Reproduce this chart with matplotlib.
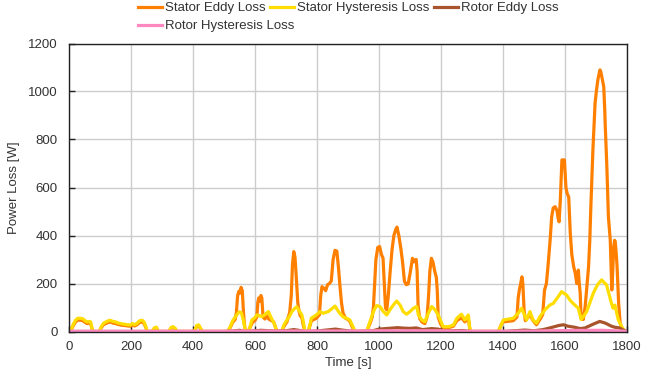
import matplotlib
matplotlib.use("Agg")
import matplotlib.pyplot as plt

plt.rcParams['font.family'] = ['Liberation Sans', 'DejaVu Sans']

# ---- data ----
t_se = [0, 5, 12, 20, 28, 38, 46, 52, 58, 65, 70, 74, 78,
        98, 104, 112, 122, 132, 142, 150, 160, 170, 180, 190, 198, 205, 212, 220, 228, 236, 242, 248, 252,
        268, 275, 282, 288, 322, 330, 336, 342, 348, 404, 412, 418, 424, 430,
        512, 520, 528, 536, 540, 544, 548, 552, 555, 559, 562, 565, 568, 572,
        578, 585, 592, 600, 606, 609, 612, 616, 619, 622, 626, 632, 638, 644, 652, 660, 665, 670,
        686, 695, 703, 712, 717, 721, 725, 729, 733, 738, 742, 746, 751, 756, 761,
        772, 782, 798, 808, 812, 816, 822, 828, 834, 840, 846, 852, 858, 864, 869, 874, 879, 884, 892, 900, 906, 914, 922,
        960, 971, 978, 982, 986, 990, 996, 1002, 1008, 1013, 1017, 1021, 1025, 1030, 1036, 1042, 1048, 1054, 1058,
        1064, 1070, 1076, 1082, 1088, 1094, 1100, 1105, 1108, 1112, 1116, 1120, 1123, 1126, 1131, 1138, 1148,
        1155, 1160, 1164, 1169, 1174, 1180, 1185, 1188, 1191, 1198, 1207, 1224, 1240, 1251, 1266, 1277, 1288, 1294,
        1385, 1395, 1401, 1433, 1445, 1449, 1453, 1457, 1461, 1464, 1468, 1472, 1487, 1497, 1508, 1519, 1528,
        1534, 1540, 1545, 1552, 1557, 1562, 1568, 1574, 1578, 1581, 1585, 1590, 1598, 1603, 1607, 1612, 1617,
        1622, 1628, 1633, 1638, 1643, 1646, 1649, 1652, 1659, 1665, 1670, 1676, 1680, 1683, 1690, 1697, 1702,
        1706, 1710, 1713, 1716, 1719, 1722, 1725, 1728, 1730, 1735, 1740, 1746, 1751, 1754, 1757, 1760, 1762,
        1765, 1768, 1773, 1778, 1785, 1790, 1800]
stator_eddy = [0, 0, 20, 38, 47, 47, 44, 38, 33, 35, 33, 12, 0,
               0, 16, 29, 35, 40, 35, 33, 29, 26, 25, 23, 22, 27, 23, 29, 38, 40, 33, 16, 0,
               0, 12, 15, 0, 0, 15, 17, 11, 0, 0, 21, 24, 12, 0,
               0, 16, 38, 50, 80, 150, 168, 160, 184, 170, 100, 40, 8, 0,
               0, 20, 38, 46, 60, 120, 140, 125, 150, 140, 60, 52, 66, 52, 46, 40, 22, 0,
               0, 25, 40, 80, 150, 280, 333, 310, 230, 120, 85, 65, 58, 25, 0,
               0, 45, 55, 70, 150, 187, 180, 170, 195, 200, 210, 300, 338, 335, 270, 190, 120, 77, 55, 50, 42, 18, 0,
               0, 33, 60, 100, 200, 300, 350, 354, 320, 306, 200, 98, 90, 150, 250, 340, 400, 425, 435,
               400, 350, 290, 210, 195, 198, 240, 280, 305, 290, 298, 300, 250, 110, 55, 40, 33,
               60, 150, 250, 305, 290, 250, 225, 170, 60, 33, 16, 16, 22, 45, 57, 40, 57, 0,
               0, 30, 40, 45, 60, 140, 175, 200, 228, 200, 90, 45, 70, 45, 28, 50, 70,
               173, 200, 270, 381, 478, 515, 520, 505, 470, 457, 550, 715, 715, 600, 575, 560, 410,
               320, 270, 243, 200, 256, 200, 160, 55, 50, 103, 180, 270, 380, 506, 756, 951, 1010,
               1048, 1075, 1090, 1080, 1060, 1040, 1020, 930, 853, 687, 478, 381, 173, 250, 353, 380, 375,
               330, 270, 118, 35, 5, 0, 0]

t_sh = [0, 5, 12, 20, 28, 38, 46, 52, 58, 65, 70, 74, 78,
        98, 104, 112, 122, 132, 142, 150, 160, 170, 180, 190, 198, 205, 212, 220, 228, 236, 242, 248, 252,
        268, 275, 282, 288, 322, 330, 336, 342, 348, 404, 412, 418, 424, 430,
        512, 520, 528, 536, 544, 550, 556, 562, 568, 572,
        580, 590, 600, 606, 614, 622, 632, 643, 653, 664, 670,
        686, 694, 703, 712, 719, 727, 735, 743, 751, 756, 761,
        772, 782, 798, 809, 820, 836, 848, 858, 866, 874, 885, 896, 906, 916, 923,
        960, 971, 982, 992, 1003, 1014, 1025, 1035, 1046, 1057, 1068, 1078, 1089, 1100, 1111, 1122, 1127,
        1138, 1148, 1159, 1170, 1181, 1191, 1200, 1207, 1224, 1240, 1251, 1266, 1277, 1288, 1294,
        1385, 1401, 1433, 1449, 1460, 1476, 1487, 1497, 1508, 1519, 1535, 1551, 1562, 1578, 1589, 1605,
        1616, 1626, 1643, 1652, 1659, 1670, 1691, 1705, 1718, 1734, 1750, 1755, 1761, 1772, 1783, 1794, 1800]
stator_hyst = [0, 0, 25, 45, 55, 55, 52, 45, 40, 42, 40, 15, 0,
               0, 20, 35, 42, 47, 42, 40, 35, 32, 30, 28, 27, 33, 28, 35, 45, 47, 40, 20, 0,
               0, 15, 18, 0, 0, 18, 20, 14, 0, 0, 25, 28, 15, 0,
               0, 20, 45, 60, 75, 82, 78, 50, 10, 0,
               0, 48, 58, 69, 66, 62, 70, 83, 55, 27, 0,
               0, 30, 48, 65, 83, 95, 103, 85, 69, 40, 0,
               0, 56, 69, 83, 76, 83, 95, 106, 90, 75, 60, 55, 48, 20, 0,
               0, 41, 83, 108, 104, 83, 69, 90, 110, 127, 110, 83, 72, 83, 97, 104, 69,
               48, 41, 76, 104, 90, 69, 41, 20, 20, 27, 55, 72, 48, 69, 0,
               0, 48, 55, 76, 97, 48, 83, 48, 35, 62, 90, 110, 117, 145, 166, 152,
               131, 117, 97, 50, 62, 83, 159, 195, 215, 194, 117, 97, 110, 48, 20, 0, 0]

t_re = [0, 500, 530, 550, 565, 600, 620, 660, 700, 725, 745, 760, 800, 830, 860, 880, 920,
        980, 1000, 1020, 1060, 1080, 1100, 1120, 1140, 1170, 1190, 1210, 1270, 1295,
        1400, 1450, 1470, 1500, 1530, 1560, 1580, 1595, 1610, 1630, 1650, 1665, 1690, 1712, 1730,
        1750, 1760, 1775, 1790, 1800]
rotor_eddy = [0, 0, 2, 5, 0, 3, 5, 2, 3, 8, 4, 0, 2, 6, 10, 6, 0,
              3, 10, 12, 16, 14, 13, 15, 8, 12, 10, 3, 4, 0,
              0, 4, 6, 3, 8, 18, 25, 28, 22, 18, 12, 15, 30, 42, 35,
              22, 18, 15, 5, 0]

t_rh = [0, 500, 550, 900, 1000, 1200, 1300, 1400, 1500, 1600, 1720, 1800]
rotor_hyst = [1, 1, 2, 2, 3, 3, 1, 1, 2, 4, 5, 1]

x_ticks = [0, 200, 400, 600, 800, 1000, 1200, 1400, 1600, 1800]
y_ticks = [0, 200, 400, 600, 800, 1000, 1200]

# ---- figure ----
fig = plt.figure(figsize=(6.46, 3.74), dpi=100)
ax = fig.add_axes([69 / 646, 1 - 331.5 / 374, (627 - 69) / 646, (331.5 - 43.5) / 374])

lw = 2.3
l1, = ax.plot(t_se, stator_eddy, color='#FF8000', lw=lw, label='Stator Eddy Loss', solid_joinstyle='round')
l2, = ax.plot(t_sh, stator_hyst, color='#FFDD00', lw=lw, label='Stator Hysteresis Loss', solid_joinstyle='round')
l3, = ax.plot(t_re, rotor_eddy, color='#A8552D', lw=lw, label='Rotor Eddy Loss', solid_joinstyle='round')
l4, = ax.plot(t_rh, rotor_hyst, color='#FF88C0', lw=lw, label='Rotor Hysteresis Loss', solid_joinstyle='round')

ax.set_xlim(0, 1800)
ax.set_ylim(0, 1200)
ax.set_xticks(x_ticks)
ax.set_yticks(y_ticks)
ax.grid(True, color='#cccccc', lw=1)
ax.set_axisbelow(True)
for s in ax.spines.values():
    s.set_color('#222222')
    s.set_linewidth(1)
ax.tick_params(direction='in', length=4, width=1, labelsize=9.5, labelcolor='#333333', color='#222222')
ax.tick_params(axis='x', pad=7)
ax.tick_params(axis='y', pad=8)
ax.set_xlabel('Time [s]', fontsize=9.5, color='#333333', labelpad=3)
ax.set_ylabel('Power Loss [W]', fontsize=9.5, color='#333333', labelpad=6)

common = dict(frameon=False, fontsize=9.5, handlelength=1.8, handletextpad=0.25,
              columnspacing=0.35, borderpad=0, borderaxespad=0, labelcolor='#333333')
leg1 = fig.legend([l1, l2, l3], ['Stator Eddy Loss', 'Stator Hysteresis Loss', 'Rotor Eddy Loss'],
                  ncol=3, loc='upper left', bbox_to_anchor=(138 / 646, 1 - 2 / 374), **common)
leg2 = fig.legend([l4], ['Rotor Hysteresis Loss'],
                  loc='upper left', bbox_to_anchor=(138 / 646, 1 - 20 / 374), **common)
for lg in (leg1, leg2):
    for h in lg.legend_handles:
        h.set_linewidth(2.3)

fig.savefig('out.png', dpi=100)
